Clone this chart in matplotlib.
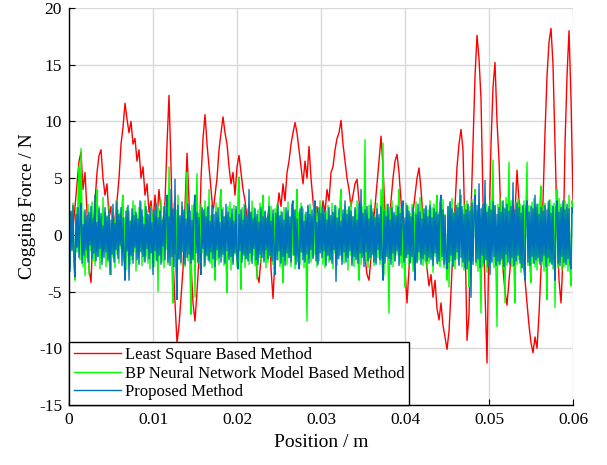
#! /usr/bin/env python3

import matplotlib
matplotlib.use("Agg")
import matplotlib.pyplot as plt
import numpy as np

# cogging force along the 0.06 m stroke (N), evenly sampled
least_square = [
    1.0, 2.0, 0.5, 2.5, 4.5, 6.5, 7.3, 4.0, 5.5, 2.0,
    -3.0, -4.2, 0.5, 3.0, 5.5, 7.0, 7.5, 5.0, 3.5, 4.5,
    1.5, 2.5, 0.0, 1.5, 3.0, 5.0, 8.0, 9.5, 11.6, 10.2,
    9.0, 10.0, 8.0, 8.5, 6.5, 7.5, 5.0, 6.0, 3.5, 4.5,
    2.0, 3.0, 1.0, 3.5, 1.5, 4.0, 2.0, 0.5, 3.0, 8.0,
    12.3, 6.0, -2.0, -6.0, -9.5, -8.0, -5.5, -3.0, 2.5, 7.2,
    3.0, -2.5, -6.0, -7.6, -5.0, -2.0, 5.0, 8.5, 10.6, 8.0,
    6.0, 4.0, 2.0, 3.5, 5.0, 7.5, 9.0, 10.4, 9.0, 8.0,
    6.0, 4.5, 5.5, 3.5, 6.0, 7.0, 5.5, 4.0, 3.0, 1.5,
    2.5, 0.5, 1.5, -1.0, -3.5, -4.2, -2.0, 0.0, -1.5, 1.0,
    2.5, -3.0, -5.6, -2.0, 2.0, 3.7, 2.5, 4.5, 3.0, 5.5,
    6.5, 8.0, 9.0, 9.9, 9.0, 7.5, 6.0, 4.5, 6.5, 5.0,
    7.8, 5.0, 3.0, 1.0, 2.5, 0.5, 1.5, 3.0, 2.0, 4.0,
    3.0, 5.5, 6.0, 7.5, 8.5, 9.0, 10.1, 8.0, 6.5, 5.0,
    4.0, 2.5, 3.5, 4.5, 4.9, 3.0, 1.5, 0.0, -2.0, -3.5,
    -4.0, -2.0, 0.0, 2.5, 4.5, 6.5, 8.7, 6.0, 2.0, -1.0,
    1.0, 3.0, 5.0, 6.5, 7.1, 5.5, 3.0, 0.0, -3.0, -6.0,
    -3.0, 0.0, 2.0, 3.5, 5.0, 5.9, 4.0, 1.5, -1.5, -3.0,
    -4.5, -3.5, -5.5, -4.0, -6.5, -7.5, -6.0, -8.0, -9.0, -10.1,
    -8.5, -5.0, -1.0, 2.5, 6.0, 8.0, 9.3, 7.5, 0.0, -9.3,
    -7.0, 2.0, 8.0, 14.0, 17.6, 15.5, 12.0, 3.0, -5.0, -11.3,
    0.0, 8.0, 13.0, 15.2, 10.0, 6.6, 1.0, -3.0, -5.0, -6.2,
    -4.0, -2.0, 0.0, 2.0, 5.7, 3.0, 0.0, -2.0, -4.0, -6.0,
    -8.0, -9.5, -10.4, -9.0, -10.0, -7.0, -3.0, 3.0, 9.0, 14.0,
    17.0, 18.2, 15.0, 8.0, 1.0, -4.0, -6.0, -2.0, 8.0, 14.0,
    18.0, 12.0, 3.0,
]

bp_network = [
    1.5, -2.6, 2.0, -1.2, 2.8, -3.0, -4.0, 2.4, -1.5, 3.2, 6.0, -2.2, 7.6, 1.5, -2.8, 2.1, -3.6, 1.4, -2.0, 2.7,
    -3.5, 1.8, -1.4, 2.9, -2.3, 1.2, -2.7, 2.2, 4.0, -1.9, 2.5, -3.0, 1.6, -2.1, 3.3, -1.3, 2.0, -2.8, 1.7, -2.4,
    2.6, -1.6, -3.5, 2.3, -2.0, 1.4, -2.9, 3.0, -1.7, 2.2, -2.5, 1.9, -1.2, 2.7, 3.5, -2.3, 1.5, -3.1, 2.4, -1.8,
    2.1, -2.6, 1.3, -2.2, 3.0, -1.5, 2.6, -3.2, 1.8, -2.0, 2.4, -1.4, 2.9, -2.7, 1.6, -2.3, 3.0, -1.9, 2.2, -2.5,
    1.7, -3.0, 2.5, -1.6, 2.0, -2.8, 1.4, -2.2, 2.8, -5.0, 2.3, -1.8, 3.1, -2.4, 1.5, -2.9, 2.6, -1.3, 2.2, -2.6,
    6.0, -2.0, 2.4, -3.2, -6.0, 2.8, -1.7, 2.2, -3.0, 3.5, -2.2, 1.6, -2.6, 2.5, -1.4, 2.1, -2.8, 3.0, 5.5, -2.3,
    2.0, -3.4, -7.0, 2.6, -2.1, 1.8, -5.5, 2.3, 5.4, -2.5, 1.9, -3.0, 2.7, -1.6, 2.2, -2.8, 3.0, -1.9, 2.4, -2.2,
    4.0, -2.5, 1.7, -2.9, 2.3, -1.8, -4.0, 2.8, -2.2, 1.5, -2.6, 3.2, 4.0, -1.9, 2.4, -2.7, 1.6, -2.3, -5.1, 2.5,
    -2.0, 2.9, -3.1, 1.8, -2.4, 2.6, -1.7, 2.2, -2.8, 3.0, 5.1, -2.2, -4.8, 2.4, -1.6, 2.7, -2.9, 1.5, -2.1, 2.3,
    -2.6, 1.9, -2.3, 3.0, -1.8, 2.4, -2.7, 1.6, -3.9, 2.2, -2.0, 2.8, -2.5, 1.7, 3.5, -2.2, 2.0, -2.9, 1.4, -2.4,
    3.4, -1.9, 2.5, -2.6, 1.8, -3.0, 2.3, -1.5, 2.7, -2.2, 1.6, -2.8, 2.1, -1.7, -4.2, 2.4, -2.3, 1.9, -2.6, 2.9,
    -2.0, 1.5, -2.8, 2.6, -1.8, 2.2, -3.0, 1.7, 4.0, -2.4, 2.0, -2.6, 2.8, -1.6, 2.3, -2.9, 1.8, -2.2, -7.6, 2.5,
    -2.1, 2.7, -2.4, 1.6, -2.0, 2.9, -1.7, 2.3, -2.8, 1.9, -2.3, 3.0, -1.5, 2.4, -2.6, 1.8, -2.9, 2.1, -1.9, 2.6,
    -2.4, 1.7, -2.2, 2.8, -3.0, 2.0, -1.6, 2.5, -2.7, 1.5, -2.1, 2.9, 4.0, -2.3, 1.8, -2.5, 2.6, -1.9, 2.2, -3.1,
    2.4, -1.8, 2.9, -2.5, 1.6, -2.8, 2.2, -2.0, 3.0, -2.3, -4.0, 1.9, -2.6, 2.5, -1.7, 2.1, 8.4, -2.4, 1.8, -2.9,
    2.6, -2.2, 3.1, -1.8, 2.3, -2.7, 1.7, -2.4, 2.8, -2.0, 1.5, -2.6, 4.0, -2.1, 8.1, -3.5, 2.2, -1.9, 2.7, -2.5,
    -6.9, 2.4, -2.1, 3.0, -2.8, 1.8, -2.3, 2.6, -1.7, 2.1, 4.0, -2.5, 2.3, -2.9, 1.6, -2.2, -4.6, 2.8, -2.0, 2.5,
    -2.6, 1.9, -2.4, 2.7, -3.2, 2.0, -1.8, 2.9, -2.5, 1.7, -2.2, 3.3, -2.0, 2.4, -2.7, 1.8, -2.3, 2.6, -3.0, 2.2,
    -2.5, 3.0, -2.0, 2.4, -3.3, 2.7, -1.9, 2.2, 3.5, -2.6, 2.0, -2.8, 2.6, -2.2, 3.1, -2.9, 1.8, -2.4, -4.0, 2.5,
    -4.6, 2.9, -2.3, 3.2, -2.7, 2.0, -3.0, 2.6, -2.1, 2.8, -2.6, 2.3, 3.5, -2.8, 2.2, -3.1, 2.7, -2.4, 3.0, -2.2,
    -4.6, 2.5, -2.9, 3.1, -2.3, 2.6, 4.0, -2.7, 2.1, -3.2, 2.8, -2.5, -6.9, 2.4, -2.8, 3.0, -2.2, 2.7, -3.3, 2.3,
    -2.6, 3.1, -2.4, 2.8, 6.6, -2.9, 2.5, -3.4, -8.1, 2.7, -2.6, 3.2, -2.3, 2.9, -3.0, 2.4, -6.0, 3.3, -2.7, 2.6,
    6.4, -2.5, 3.0, -2.8, 2.4, -3.1, -6.0, 2.9, -2.6, 3.2, -2.2, 2.7, -3.3, 2.5, -2.9, 3.0, -2.4, 2.8, 6.4, -2.7,
    2.6, -3.0, -4.2, 2.9, -2.5, 3.2, -2.8, 2.4, -3.1, 2.7, -2.3, 3.0, 4.3, -2.6, 2.5, -3.2, 2.8, -2.4, -5.7, 2.9,
    -2.7, 3.1, -2.5, 2.6, -3.0, 2.8, -6.4, 2.3, 4.0, -2.9, 3.2, -2.4, 2.7, -3.1, 2.5, -2.8, 3.0, -2.6, 2.4, -3.2,
    3.5, -2.9, -4.5, 3.0, 2.5,
]

proposed = [
    1.5, -3.2, 2.1, -1.4, 2.6, -2.2, -3.7, 1.8, -1.1, 2.4, -2.0, 1.2, 2.8, -2.5, 0.9, -1.8, 2.2, -1.3, 1.7, -2.4,
    2.0, -0.9, 2.5, -2.1, 1.4, -1.6, 3.5, -2.3, 1.1, -1.9, 2.3, -1.2, 1.9, -2.6, 0.8, -2.0, 2.4, -1.5, 1.6, -2.2,
    2.2, -3.5, 1.3, -1.7, 2.7, -2.4, 1.0, -1.3, 2.9, -2.1, 1.8, -0.9, 2.4, -2.7, 1.5, -2.0, -4.0, 2.1, -1.4, 2.6,
    -4.0, 1.2, -1.8, 2.3, -2.5, 1.7, -1.1, 2.0, -2.2, 1.4, -2.6, 3.0, -1.5, 2.2, -1.9, 0.9, -2.4, 2.5, -1.2, 1.8,
    -2.1, 2.4, -1.6, 1.1, -3.5, 2.2, -1.4, 2.7, -2.3, 1.5, -1.8, 2.1, -2.6, 1.3, -1.0, 2.5, -2.2, 1.9, 3.5, -2.4,
    1.6, -2.7, 4.0, -1.9, 2.3, -2.8, 4.9, -3.0, -5.7, 2.6, -2.1, 1.7, -2.4, 2.9, -1.5, 2.2, -2.6, 1.4, -2.0, 2.7,
    -1.7, 2.1, -2.5, 1.3, -2.2, 2.6, 3.5, -1.6, 2.0, -2.4, 1.5, -1.9, -3.5, 2.4, -1.2, 2.2, -2.7, 1.6, -1.8, 2.5,
    -2.3, 1.2, -1.5, 2.6, -2.1, 1.8, -2.8, 2.0, -1.3, 2.4, -2.0, 1.1, -2.4, 2.2, -1.7, 1.6, -2.5, 2.7, -1.4, 2.0,
    -2.2, 1.5, -1.9, 2.3, -2.6, 1.2, -1.6, 2.5, -2.0, -3.0, 1.8, -1.4, 2.2, -2.4, 1.3, -1.8, 2.6, -2.1, 1.7, -2.3,
    4.0, -1.6, 2.0, -2.5, 1.4, -1.2, 2.3, -2.2, 1.8, -2.6, 1.1, -1.7, 2.4, -2.0, 1.6, -2.4, 2.1, -1.3, 1.5, -2.1,
    2.5, -1.8, 1.2, -2.3, 2.2, -1.5, -3.5, 1.9, -2.2, 2.6, -1.4, 1.7, -2.5, 2.0, -1.9, 1.3, -2.7, 2.4, -1.6, 2.1,
    -2.0, 1.6, -2.4, 2.7, 3.0, -1.8, 2.2, -2.6, 1.4, -1.9, -3.0, 2.3, -1.5, 2.5, -2.2, 1.2, -2.4, 2.0, -1.7, 2.6,
    -2.5, 1.8, -1.3, 2.2, -2.1, 1.5, 3.0, -2.3, 1.1, -2.6, 2.4, -1.6, 1.9, -2.0, 2.6, -1.4, 2.1, -2.7, 1.3, -1.8,
    2.4, -2.2, 1.7, -2.5, 2.0, -1.3, 2.6, -4.1, 1.5, -2.1, 2.3, -1.8, 1.2, -2.6, 2.2, -1.5, 3.0, -2.4, 1.8, -2.0,
    2.5, -1.4, 2.1, -2.7, 1.6, -1.9, 2.4, -2.2, 1.3, -2.5, 2.7, -1.6, 4.0, -2.0, 1.9, -2.8, 2.2, -1.5, 2.5, -2.3,
    1.4, -2.0, 2.6, -1.7, 2.0, -2.4, 1.5, -2.6, 2.3, -1.3, 1.8, -2.2, 2.5, -1.8, -4.0, 2.1, -2.5, 1.6, -1.9, 2.7,
    -2.1, 1.3, -2.6, 2.4, -1.6, 2.0, -2.3, 1.7, -1.4, 2.5, -2.7, 1.9, -1.8, 2.2, 3.0, -2.4, 1.5, -2.0, 2.6, -1.7,
    2.1, -2.5, 1.6, -1.9, 2.4, -2.2, -4.0, 1.8, -2.4, 2.7, -1.5, 2.0, -2.6, 1.4, -2.1, 2.3, -1.7, 2.5, -2.3, 1.6,
    -2.0, 2.6, -2.2, 1.5, -2.7, 2.3, -1.6, 2.0, -2.5, 1.8, -2.3, 2.8, 3.5, -1.9, 2.2, -2.6, 1.7, -2.1, -3.0, 2.5,
    -2.4, 2.9, -1.8, 2.3, -2.8, 1.9, -2.2, 2.6, -1.5, 2.4, -2.7, 4.0, -2.0, 2.5, -2.4, 1.8, -2.9, 2.2, -3.0, 2.7,
    -2.3, 2.1, -5.5, 2.8, -2.6, 1.9, 3.5, -2.4, 2.6, -2.1, 4.5, -2.9, 2.3, -1.8, 2.7, -2.5, 4.8, -2.2, 2.0, -2.8,
    2.5, -3.5, 2.2, -2.4, 2.9, -1.9, 2.6, -2.7, 1.8, -2.3, 2.4, -2.6, 2.0, -2.1, 3.0, -2.8, 2.3, -1.7, 2.7, -2.4,
    2.1, -2.6, 2.5, -2.0, 4.6, -2.7, 2.2, -2.3, 2.8, -1.8, 2.4, -2.5, 1.9, -2.9, 2.6, -2.1, -4.0, 2.3, 3.0, -2.4,
    2.0, -2.7, 2.5, -1.9, 2.3, -2.5, 3.5, -2.2, 2.7, -2.0, 1.8, -2.6, 2.4, -2.3, 2.1, -1.8, 2.6, -2.8, 2.2, -2.0,
    3.0, -2.4, 1.9, -2.6, 2.5, -2.1, -4.0, 2.3, 3.0, -2.5, 2.0, -2.7, 2.4, -1.9, 3.0, -2.4, 2.2, -2.6, 2.7, -2.1,
    2.3, -2.5, -3.0, 2.4, 2.0,
]

labels = ["Least Square Based Method", "BP Neural Network Model Based Method", "Proposed Method"]
colors = ["#ff0000", "#00ff00", "#0072bd"]

x_ticks = [0, 0.01, 0.02, 0.03, 0.04, 0.05, 0.06]
x_tick_labels = ["0", "0.01", "0.02", "0.03", "0.04", "0.05", "0.06"]
y_ticks = [-15, -10, -5, 0, 5, 10, 15, 20]

plt.rcParams['font.family'] = ['Liberation Serif', 'DejaVu Serif']
plt.rcParams['axes.unicode_minus'] = False

fig = plt.figure(figsize=(6.07, 4.65), dpi=100)
ax = fig.add_axes([0.1137, 0.129, 0.8303, 0.8538])

for series, label, color in zip((least_square, bp_network, proposed), labels, colors):
    position = np.linspace(0, 0.06, len(series))
    ax.plot(position, series, color=color, lw=1.0, label=label)

ax.set_xlim(0, 0.06)
ax.set_ylim(-15, 20)
ax.set_xticks(x_ticks, x_tick_labels)
ax.set_yticks(y_ticks)
ax.tick_params(direction='in', length=4, labelsize=12.5, width=0.8, pad=5)
ax.spines['top'].set_visible(False)
ax.spines['right'].set_visible(False)
ax.spines['left'].set_linewidth(1.0)
ax.spines['bottom'].set_linewidth(1.0)
ax.set_axisbelow(True)
ax.grid(color='#d9d9d9', lw=1.0)

ax.set_xlabel('Position / m', fontsize=14, labelpad=4)
ax.set_ylabel('Cogging Force / N', fontsize=14, labelpad=2)

leg = ax.legend(loc='lower left', fontsize=12, borderaxespad=0, fancybox=False,
                edgecolor='black', framealpha=1, handlelength=2.8, handletextpad=0.25,
                labelspacing=0.15, borderpad=0.3)
leg.get_frame().set_linewidth(1.0)

plt.savefig("out.png", dpi=100)
